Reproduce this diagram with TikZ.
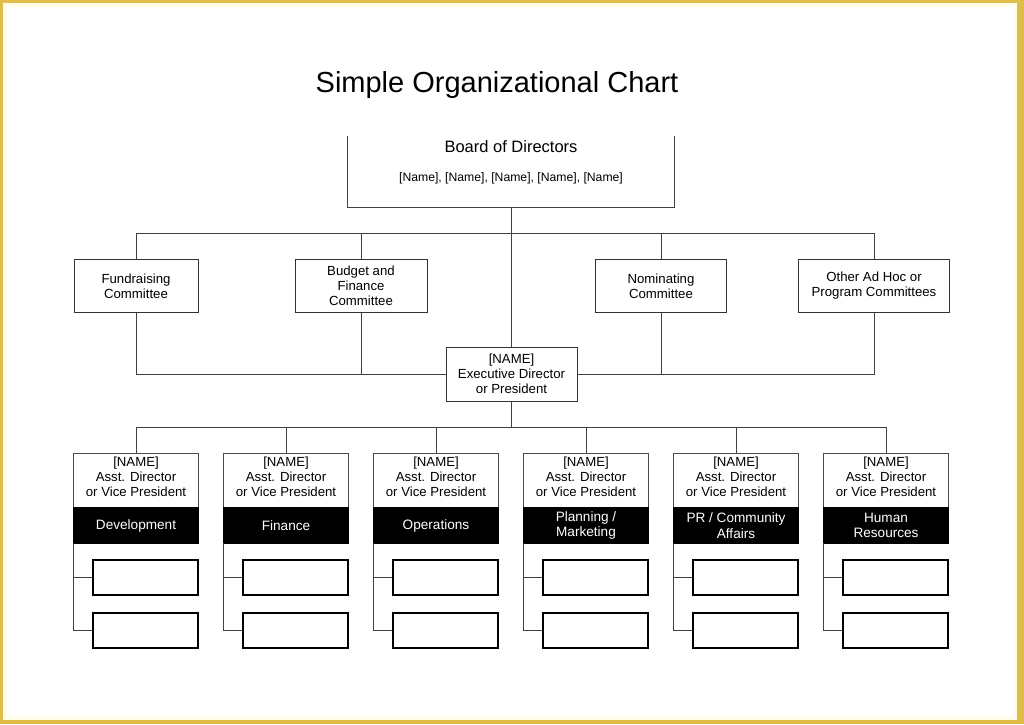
\documentclass[tikz,border=0pt]{standalone}
\usepackage{fontspec}
\setmainfont{Liberation Sans}
\definecolor{gold}{RGB}{222,190,72}
\definecolor{cream}{RGB}{255,252,232}
\begin{document}
\begin{tikzpicture}[x=1pt,y=-1pt,
  conn/.style={draw=black!75, line width=0.9pt},
  box/.style={draw=black!80, line width=0.9pt, fill=white, inner sep=0pt, align=center, font=\fontsize{13.2}{15}\selectfont, minimum height=53pt},
  dtop/.style={draw=black!70, line width=0.9pt, fill=white, minimum width=125pt, minimum height=54pt, inner sep=0pt},
  dbot/.style={draw=black, fill=black, minimum width=125pt, minimum height=36pt, inner sep=0pt},
  subbox/.style={draw=black, line width=1.5pt, fill=white, minimum width=105pt, minimum height=35pt, inner sep=0pt},
  dtext/.style={align=center, inner sep=0pt, font=\fontsize{13.2}{15}\selectfont},
  wtext/.style={align=center, inner sep=0pt, text=white, font=\fontsize{13.6}{15.5}\selectfont}]
\useasboundingbox (0,0) rectangle (1024,724);
\fill[gold] (0,0) rectangle (1024,724);
\fill[cream] (3,3) rectangle (1017,720);
\fill[white] (7,7) rectangle (1013,716);

\node[font=\fontsize{29}{33}\selectfont] (title) at (497,85) {Simple Organizational Chart};

% Board
\node[minimum width=326pt, minimum height=71pt, inner sep=0pt] (board) at (511,171.5) {};
\draw[conn] (board.north west) -- (board.south west) -- (board.south east) -- (board.north east);
\node[font=\fontsize{16.5}{19}\selectfont] (bodt) at (511,147) {Board of Directors};
\node[font=\fontsize{12.2}{14}\selectfont] (bodn) at (511,178) {[Name], [Name], [Name], [Name], [Name]};

% Committees
\node[box, minimum width=124pt] (fund) at (136,286) {Fundraising\\Committee};
\node[box, minimum width=132pt] (budget) at (361,286) {Budget and\\Finance\\Committee};
\node[box, minimum width=131pt] (nom) at (661,286) {Nominating\\Committee};
\node[box, minimum width=151pt] (other) at (874,286) {Other Ad Hoc or\\Program Committees};

% Executive
\node[box, minimum width=131pt, minimum height=54pt] (exec) at (511.5,374) {[NAME]\\Executive Director\\or President};

\coordinate (b1) at (0,233);
\coordinate (b3) at (0,427);

\draw[conn] (board.south) -- (board.south |- exec.north);
\draw[conn] (fund.north) -- (fund.north |- b1) -- (other.north |- b1) -- (other.north);
\draw[conn] (budget.north) -- (budget.north |- b1);
\draw[conn] (nom.north) -- (nom.north |- b1);
\draw[conn] (fund.south) -- (fund.south |- exec.west) -- (exec.west);
\draw[conn] (exec.east) -- (other.south |- exec.east) -- (other.south);
\draw[conn] (budget.south) -- (budget.south |- exec.west);
\draw[conn] (nom.south) -- (nom.south |- exec.east);

% Departments
\foreach \i in {0,...,5} {
  \pgfmathsetmacro\cx{136+150*\i}
  \node[dtop] (dt\i) at (\cx,480) {};
  \node[dbot] (db\i) at (\cx,525) {};
  \node[subbox] (sa\i) at (\cx+9.5,577.5) {};
  \node[subbox] (sb\i) at (\cx+9.5,630.5) {};
  \draw[conn] (db\i.south west) -- (db\i.south west |- sb\i.west) -- (sb\i.west);
  \draw[conn] (db\i.south west |- sa\i.west) -- (sa\i.west);
  \draw[conn] (dt\i.north) -- (dt\i.north |- b3);
  \node[dtext] (dn\i) at (\cx,476.5) {[NAME]\\Asst. Director\\or Vice President};
}
\draw[conn] (exec.south) -- (exec.south |- b3);
\draw[conn] (dt0.north |- b3) -- (dt5.north |- b3);

\node[wtext] (dw0) at (136,525.5) {Development};
\node[wtext] (dw1) at (286,525.5) {Finance};
\node[wtext] (dw2) at (436,525.5) {Operations};
\node[wtext] (dw3) at (586,525.5) {Planning /\\Marketing};
\node[wtext] (dw4) at (736,525.5) {PR / Community\\Affairs};
\node[wtext] (dw5) at (886,525.5) {Human\\Resources};
\end{tikzpicture}
\end{document}
